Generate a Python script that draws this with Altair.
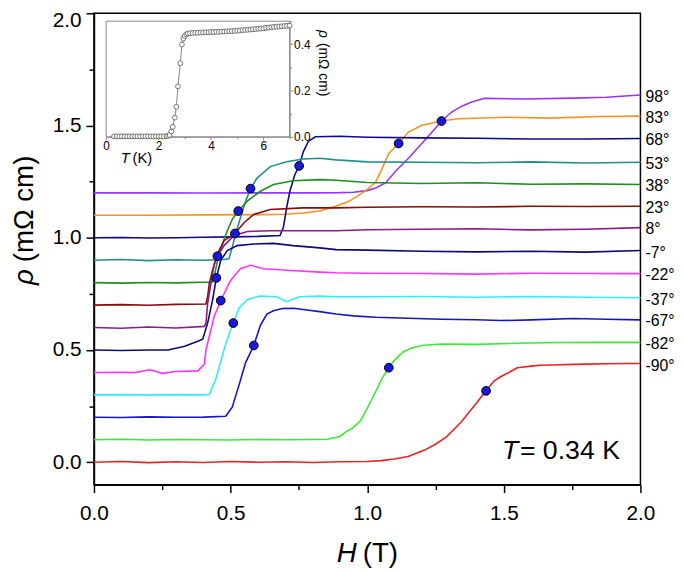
import altair as alt
import pandas as pd

FONT = "Liberation Sans"

# ---------------- main data ----------------
angles = ["98°", "83°", "68°", "53°", "38°", "23°", "8°", "-7°", "-22°", "-37°", "-67°", "-82°", "-90°"]
colors = ["#9933FF", "#FF9020", "#0A0A8C", "#1F8F8F", "#1E8F1E", "#8B0A0A", "#8B1A8B",
          "#0A0A80", "#FF33FF", "#33EEEE", "#1414CC", "#33EE33", "#EE2020"]

H_98 = [0, 0.2, 0.4, 0.6, 0.8, 0.9, 0.95, 1.0, 1.031, 1.067, 1.103, 1.151, 1.2, 1.248, 1.272, 1.308, 1.344, 1.38, 1.429, 1.573, 1.754, 1.875, 2.0]
R_98 = [1.2, 1.2, 1.199, 1.2, 1.2, 1.201, 1.203, 1.21, 1.222, 1.244, 1.295, 1.354, 1.42, 1.486, 1.52, 1.559, 1.585, 1.604, 1.621, 1.618, 1.622, 1.626, 1.636]

H_83 = [0, 0.2, 0.4, 0.6, 0.7, 0.766, 0.826, 0.886, 0.93, 0.97, 1.0, 1.031, 1.055, 1.079, 1.115, 1.151, 1.2, 1.272, 1.332, 1.513, 1.67, 1.85, 2.0]
R_83 = [1.1, 1.1, 1.102, 1.103, 1.105, 1.11, 1.119, 1.141, 1.16, 1.19, 1.215, 1.248, 1.31, 1.376, 1.42, 1.471, 1.501, 1.52, 1.53, 1.537, 1.533, 1.54, 1.542]

H_68 = [0, 0.1, 0.2, 0.3, 0.4, 0.5, 0.6, 0.681, 0.693, 0.705, 0.717, 0.735, 0.751, 0.766, 0.785, 0.81, 0.9, 1.0, 1.2, 1.4, 1.6, 1.8, 2.0]
R_68 = [1.0, 1.001, 0.999, 1.0, 1.002, 1.004, 1.006, 1.01, 1.045, 1.133, 1.207, 1.281, 1.32, 1.383, 1.43, 1.45, 1.452, 1.448, 1.445, 1.443, 1.44, 1.44, 1.442]

H_53 = [0, 0.1, 0.2, 0.3, 0.4, 0.476, 0.494, 0.506, 0.518, 0.536, 0.555, 0.573, 0.597, 0.645, 0.705, 0.766, 0.826, 0.886, 1.0, 1.2, 1.4, 1.6, 1.8, 2.0]
R_53 = [0.9, 0.903, 0.898, 0.902, 0.9, 0.903, 0.906, 0.957, 1.016, 1.089, 1.163, 1.219, 1.266, 1.317, 1.339, 1.351, 1.354, 1.347, 1.338, 1.336, 1.334, 1.338, 1.333, 1.336]

H_38 = [0, 0.1, 0.2, 0.3, 0.434, 0.44, 0.452, 0.47, 0.488, 0.506, 0.528, 0.561, 0.609, 0.657, 0.729, 0.826, 0.886, 1.0, 1.2, 1.4, 1.6, 1.8, 2.0]
R_38 = [0.8, 0.798, 0.801, 0.799, 0.803, 0.825, 0.899, 0.972, 1.031, 1.082, 1.119, 1.163, 1.207, 1.237, 1.254, 1.259, 1.256, 1.246, 1.242, 1.245, 1.238, 1.24, 1.237]

H_23 = [0, 0.1, 0.2, 0.3, 0.41, 0.416, 0.422, 0.434, 0.452, 0.476, 0.516, 0.549, 0.585, 0.645, 0.766, 0.886, 1.0, 1.2, 1.4, 1.6, 1.8, 2.0]
R_23 = [0.7, 0.702, 0.699, 0.703, 0.705, 0.737, 0.796, 0.855, 0.928, 0.987, 1.019, 1.067, 1.104, 1.126, 1.133, 1.133, 1.136, 1.138, 1.137, 1.14, 1.139, 1.14]

H_8 = [0, 0.1, 0.2, 0.3, 0.404, 0.41, 0.416, 0.428, 0.44, 0.452, 0.476, 0.512, 0.561, 0.645, 0.766, 0.886, 1.0, 1.2, 1.4, 1.6, 1.8, 2.0]
R_8 = [0.6, 0.597, 0.602, 0.598, 0.605, 0.62, 0.708, 0.796, 0.884, 0.918, 0.965, 1.009, 1.028, 1.031, 1.031, 1.031, 1.036, 1.038, 1.04, 1.035, 1.038, 1.045]

H_m7 = [0, 0.1, 0.2, 0.271, 0.332, 0.38, 0.398, 0.416, 0.434, 0.448, 0.464, 0.488, 0.524, 0.585, 0.657, 0.729, 0.826, 0.886, 1.0, 1.2, 1.4, 1.6, 1.8, 2.0]
R_m7 = [0.5, 0.498, 0.5, 0.5, 0.517, 0.539, 0.548, 0.62, 0.722, 0.821, 0.899, 0.943, 0.965, 0.972, 0.975, 0.965, 0.955, 0.947, 0.945, 0.94, 0.937, 0.94, 0.936, 0.943]

H_m22 = [0, 0.1, 0.15, 0.205, 0.25, 0.3, 0.38, 0.404, 0.41, 0.422, 0.44, 0.464, 0.5, 0.536, 0.573, 0.621, 0.705, 0.826, 0.886, 1.0, 1.2, 1.4, 1.6, 1.8, 2.0]
R_m22 = [0.4, 0.401, 0.399, 0.412, 0.396, 0.404, 0.407, 0.436, 0.5, 0.561, 0.649, 0.72, 0.81, 0.862, 0.877, 0.862, 0.855, 0.847, 0.844, 0.842, 0.841, 0.838, 0.842, 0.841, 0.84]

H_m37 = [0, 0.1, 0.2, 0.3, 0.4, 0.422, 0.446, 0.476, 0.5, 0.51, 0.531, 0.561, 0.609, 0.669, 0.705, 0.753, 0.826, 0.886, 1.0, 1.2, 1.4, 1.6, 1.8, 2.0]
R_m37 = [0.3, 0.301, 0.299, 0.301, 0.3, 0.302, 0.37, 0.502, 0.59, 0.62, 0.686, 0.725, 0.74, 0.737, 0.715, 0.737, 0.74, 0.737, 0.737, 0.738, 0.735, 0.738, 0.735, 0.733]

H_m67 = [0, 0.1, 0.2, 0.3, 0.4, 0.482, 0.506, 0.53, 0.555, 0.585, 0.609, 0.633, 0.657, 0.69, 0.729, 0.78, 0.826, 0.886, 0.95, 1.031, 1.15, 1.272, 1.4, 1.489, 1.6, 1.754, 1.875, 2.0]
R_m67 = [0.2, 0.199, 0.202, 0.2, 0.201, 0.205, 0.245, 0.34, 0.444, 0.52, 0.61, 0.66, 0.675, 0.685, 0.686, 0.678, 0.671, 0.66, 0.652, 0.646, 0.641, 0.637, 0.635, 0.631, 0.634, 0.64, 0.637, 0.634]

H_m82 = [0, 0.1, 0.2, 0.3, 0.4, 0.5, 0.6, 0.7, 0.8, 0.856, 0.9, 0.922, 0.95, 0.976, 1.0, 1.031, 1.055, 1.079, 1.1, 1.13, 1.16, 1.2, 1.27, 1.4, 1.55, 1.7, 1.85, 2.0]
R_m82 = [0.1, 0.102, 0.099, 0.101, 0.1, 0.099, 0.101, 0.1, 0.101, 0.102, 0.115, 0.135, 0.155, 0.186, 0.24, 0.315, 0.375, 0.421, 0.455, 0.49, 0.508, 0.52, 0.527, 0.525, 0.53, 0.533, 0.534, 0.534]

H_m90 = [0, 0.1, 0.2, 0.3, 0.4, 0.5, 0.6, 0.7, 0.8, 0.9, 1.0, 1.05, 1.1, 1.15, 1.21, 1.25, 1.29, 1.344, 1.392, 1.435, 1.465, 1.49, 1.513, 1.549, 1.6, 1.633, 1.7, 1.754, 1.8, 1.875, 1.95, 2.0]
R_m90 = [0.0, 0.003, -0.002, 0.002, -0.001, 0.003, 0.0, 0.002, -0.001, 0.002, 0.003, 0.007, 0.014, 0.025, 0.054, 0.08, 0.113, 0.179, 0.252, 0.318, 0.363, 0.382, 0.396, 0.421, 0.428, 0.432, 0.434, 0.436, 0.437, 0.439, 0.44, 0.44]

curve_H = [H_98, H_83, H_68, H_53, H_38, H_23, H_8, H_m7, H_m22, H_m37, H_m67, H_m82, H_m90]
curve_R = [R_98, R_83, R_68, R_53, R_38, R_23, R_8, R_m7, R_m22, R_m37, R_m67, R_m82, R_m90]

# blue markers (Hc2 points)
dot_H = [1.272, 1.115, 0.751, 0.573, 0.528, 0.516, 0.452, 0.448, 0.464, 0.51, 0.585, 1.079, 1.435]
dot_R = [1.52, 1.42, 1.32, 1.219, 1.119, 1.019, 0.918, 0.821, 0.72, 0.62, 0.52, 0.421, 0.318]

# right-hand labels (placed at the curve end values)
label_R = [1.634, 1.542, 1.44, 1.335, 1.238, 1.141, 1.044, 0.94, 0.841, 0.731, 0.634, 0.533, 0.436]

# ---------------- inset data ----------------
inset_T = [0.3, 0.4, 0.5, 0.6, 0.7, 0.8, 0.9, 1.0, 1.1, 1.2, 1.3, 1.4, 1.5, 1.6, 1.7, 1.8, 1.9, 2.0, 2.1, 2.2, 2.3, 2.37,
           2.42, 2.49, 2.54, 2.62, 2.68, 2.74, 2.83, 2.89, 2.95, 3.0, 3.06, 3.12,
           3.2, 3.3, 3.4, 3.5, 3.6, 3.7, 3.8, 3.9, 4.0, 4.1, 4.2, 4.3, 4.4, 4.5, 4.6, 4.7, 4.8, 4.9,
           5.0, 5.1, 5.2, 5.3, 5.4, 5.5, 5.6, 5.7, 5.8, 5.9, 6.0, 6.1, 6.2, 6.3, 6.4, 6.5, 6.6, 6.7, 6.8, 6.9, 7.0]
inset_R = [0.002, 0.002, 0.002, 0.002, 0.002, 0.002, 0.002, 0.002, 0.002, 0.002, 0.002, 0.002, 0.002, 0.002, 0.002, 0.002, 0.002, 0.002, 0.002, 0.002, 0.003, 0.004,
           0.008, 0.023, 0.043, 0.083, 0.13, 0.218, 0.318, 0.399, 0.425, 0.436, 0.443, 0.447,
           0.448, 0.449, 0.45, 0.45, 0.451, 0.451, 0.452, 0.452, 0.453, 0.453, 0.454, 0.454, 0.455, 0.455, 0.456, 0.457, 0.457, 0.458,
           0.459, 0.46, 0.461, 0.462, 0.463, 0.464, 0.465, 0.466, 0.467, 0.468, 0.469, 0.471, 0.472, 0.474, 0.475, 0.476, 0.477, 0.478, 0.479, 0.48, 0.481]

# ---------------- build tables ----------------
rows = []
for lab, hs, rs in zip(angles, curve_H, curve_R):
    for h, r in zip(hs, rs):
        rows.append({"angle": lab, "H": h, "rho": r})
df = pd.DataFrame(rows)
dots = pd.DataFrame({"H": dot_H, "rho": dot_R})
labels = pd.DataFrame({"angle": angles, "H": [2.0] * len(angles), "rho": label_R})
inset = pd.DataFrame({"T": inset_T, "rho": inset_R})

W, Hh = 553, 477

xs = alt.Scale(domain=[0, 2], nice=False, zero=False)
ys = alt.Scale(domain=[-0.1, 2.0], nice=False, zero=False)

major_x = "datum.value % 0.5 === 0"
xaxis = alt.Axis(values=[i * 0.25 for i in range(9)],
                 labelExpr=f"{major_x} ? format(datum.value, '.1f') : ''",
                 tickSize={"condition": {"test": major_x, "value": 8}, "value": 5},
                 grid=False, domainColor="black", domainWidth=1.5, tickColor="black", tickWidth=1.5,
                 labelFont=FONT, labelFontSize=21, labelColor="black", labelPadding=10,
                 labelFlush=False, labelOverlap=False, title=None)
yaxis = alt.Axis(values=[i * 0.25 for i in range(9)],
                 labelExpr=f"{major_x} ? format(datum.value, '.1f') : ''",
                 tickSize={"condition": {"test": major_x, "value": 8}, "value": 5},
                 labelOffset={"condition": {"test": "datum.value >= 2", "value": 7}, "value": 0},
                 grid=False, domainColor="black", domainWidth=1.5, tickColor="black", tickWidth=1.5,
                 labelFont=FONT, labelFontSize=21, labelColor="black", labelPadding=5,
                 labelFlush=False, labelOverlap=False, title=None)

X = alt.X("H:Q", scale=xs, axis=xaxis)
Y = alt.Y("rho:Q", scale=ys, axis=yaxis)

lines = alt.Chart(df).mark_line(strokeWidth=1.6).encode(
    x=X, y=Y,
    color=alt.Color("angle:N", scale=alt.Scale(domain=angles, range=colors), legend=None),
    order="H:Q",
)
pts = alt.Chart(dots).mark_circle(size=78, fill="#1818E0", stroke="black", strokeWidth=1, opacity=1).encode(x=X, y=Y)
labs = alt.Chart(labels).mark_text(align="left", baseline="middle", dx=5, dy=1.5, fontSize=16, font=FONT, color="black").encode(
    x=X, y=Y, text="angle:N")

one = pd.DataFrame({"a": [0]})

def txt(s, x, y, size, style="normal", align="left", angle=0, baseline="alphabetic"):
    kw = dict(text=s, fontSize=size, font=FONT, fontStyle=style, align=align, baseline=baseline, color="black")
    if angle:
        kw["angle"] = angle
    return alt.Chart(one).mark_text(**kw).encode(x=alt.value(x), y=alt.value(y))

annos = [
    txt("T", 413, 451, 27, "italic"),
    txt("= 0.34 K", 431, 451, 27),
    txt("H", 266, 555, 28, "italic", align="right"),
    txt("(T)", 272, 555, 28),
    txt("ρ", -62, 275, 28, "italic", angle=270),
    txt("(mΩ cm)", -62, 252, 28, angle=270),
    txt("T", 27, 151, 15, "italic"),
    txt("(K)", 39, 151, 15),
    txt("ρ", 228, 17, 14, "italic", angle=90),
    txt("(mΩ cm)", 228, 30, 14, angle=90),
]

main = alt.layer(lines, pts, labs, *annos)

# ---------------- inset ----------------
xs_in = alt.Scale(domain=[0, 7], range=[12.3, 198], nice=False, zero=False)
ys_in = alt.Scale(domain=[0, 0.5], range=[125, 8], nice=False, zero=False)
xin_axis = alt.Axis(orient="bottom", offset=-352, values=[0, 1, 2, 3, 4, 5, 6, 7],
                    labelExpr="datum.value % 2 === 0 ? format(datum.value, 'd') : ''",
                    tickSize={"condition": {"test": "datum.value % 2 === 0", "value": 3}, "value": 2},
                    grid=False, domainColor="#888888", tickColor="#888888", domainWidth=1, tickWidth=1,
                    labelFont=FONT, labelFontSize=12, labelColor="black", labelPadding=1,
                    labelFlush=False, labelOverlap=False, title=None)
yin_axis = alt.Axis(orient="right", offset=-355, values=[0, 0.1, 0.2, 0.3, 0.4, 0.5],
                    labelExpr="round(datum.value * 10) % 2 === 0 && datum.value < 0.45 ? format(datum.value, '.1f') : ''",
                    tickSize={"condition": {"test": "round(datum.value * 10) % 2 === 0", "value": 3}, "value": 2},
                    grid=False, domainColor="#888888", tickColor="#888888", domainWidth=1, tickWidth=1,
                    labelFont=FONT, labelFontSize=12, labelColor="black", labelPadding=1,
                    labelFlush=False, labelOverlap=False, title=None)
XI = alt.X("T:Q", scale=xs_in, axis=xin_axis)
YI = alt.Y("rho:Q", scale=ys_in, axis=yin_axis)

frame = alt.Chart(pd.DataFrame({"T": [0], "T2": [7], "rho": [0], "rho2": [0.5]})).mark_rect(
    fillOpacity=0, stroke="#888888", strokeWidth=1).encode(x=XI, x2="T2:Q", y=YI, y2="rho2:Q")
in_line = alt.Chart(inset).mark_line(color="#666666", strokeWidth=0.8).encode(x=XI, y=YI, order="T:Q")
in_pts = alt.Chart(inset).mark_point(shape="circle", size=24, filled=False, stroke="#555555", strokeWidth=0.8,
                                     fill="white", fillOpacity=1, opacity=1).encode(x=XI, y=YI)
inset_layer = alt.layer(frame, in_line, in_pts)

chart = alt.layer(main, inset_layer).resolve_scale(x="independent", y="independent").properties(
    width=W, height=Hh,
    autosize=alt.AutoSizeParams(type="none"),
    padding={"left": 87, "top": 2, "right": 37, "bottom": 82},
).configure_view(stroke="black", strokeWidth=1.5)

chart.save("out.html", embed_options={"renderer": "svg", "actions": False})
